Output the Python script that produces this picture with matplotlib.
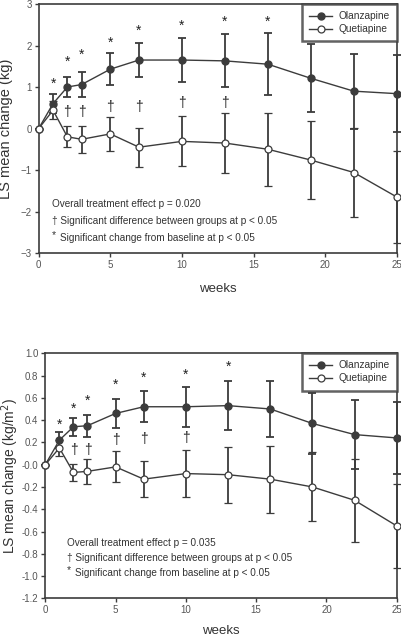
import numpy as np
import matplotlib
matplotlib.use("Agg")
import matplotlib.pyplot as plt
from matplotlib.lines import Line2D

plt.rcParams['font.family'] = ['Liberation Sans', 'DejaVu Sans']

weeks = [0, 1, 2, 3, 5, 7, 10, 13, 16, 19, 22, 25]

# weight change (kg)
olz_kg = [0, 0.60, 1.00, 1.06, 1.43, 1.65, 1.65, 1.63, 1.55, 1.21, 0.90, 0.84]
olz_kg_err = [0, 0.22, 0.24, 0.31, 0.38, 0.42, 0.54, 0.64, 0.74, 0.82, 0.90, 0.93]
que_kg = [0, 0.44, -0.20, -0.26, -0.13, -0.45, -0.31, -0.35, -0.50, -0.76, -1.06, -1.65]
que_kg_err = [0, 0.22, 0.25, 0.33, 0.41, 0.47, 0.60, 0.73, 0.88, 0.95, 1.07, 1.10]
star_wk_kg = [1, 2, 3, 5, 7, 10, 13, 16]
star_y_kg = [1.08, 1.62, 1.77, 2.06, 2.35, 2.47, 2.57, 2.57]
dag_wk_kg = [2, 3, 5, 7, 10, 13]
dag_y_kg = [0.39, 0.39, 0.52, 0.52, 0.62, 0.62]

# BMI change (kg/m2)
olz_bmi = [0, 0.22, 0.34, 0.35, 0.46, 0.52, 0.52, 0.53, 0.50, 0.37, 0.27, 0.24]
olz_bmi_err = [0, 0.07, 0.08, 0.10, 0.13, 0.14, 0.18, 0.22, 0.25, 0.27, 0.31, 0.32]
que_bmi = [0, 0.15, -0.07, -0.06, -0.02, -0.13, -0.08, -0.09, -0.13, -0.20, -0.32, -0.55]
que_bmi_err = [0, 0.07, 0.08, 0.11, 0.14, 0.16, 0.21, 0.25, 0.30, 0.31, 0.37, 0.38]
star_wk_bmi = [1, 2, 3, 5, 7, 10, 13]
star_y_bmi = [0.36, 0.50, 0.57, 0.72, 0.78, 0.81, 0.88]
dag_wk_bmi = [2, 3, 5, 7, 10]
dag_y_bmi = [0.13, 0.13, 0.22, 0.23, 0.24]

dark = "#3c3c3c"
grey = "#555555"
txtc = "#333333"

fig = plt.figure(figsize=(4.02, 6.37), dpi=100)
ax1 = fig.add_axes([0.0963, 0.6028, 0.8907, 0.3909])
ax2 = fig.add_axes([0.1127, 0.0607, 0.8743, 0.3847])


def panel(ax, olz, olz_err, que, que_err, swk, sy, dwk, dy, pval, txt_x, txt_y, dy_txt):
    ax.errorbar(weeks, olz, yerr=olz_err, color=dark, lw=1.0, marker='o', ms=5,
                mfc=dark, mec=dark, ecolor=dark, elinewidth=1.3, capsize=2.8,
                capthick=1.3, clip_on=False, zorder=3)
    ax.errorbar(weeks, que, yerr=que_err, color=dark, lw=1.0, marker='o', ms=5,
                mfc='white', mec=dark, mew=0.9, ecolor=dark, elinewidth=1.3,
                capsize=2.8, capthick=1.3, clip_on=False, zorder=3)
    for x, y in zip(swk, sy):
        ax.text(x, y, '*', ha='center', va='center', fontsize=10, color='#222222')
    for x, y in zip(dwk, dy):
        ax.text(x, y, '\u2020', ha='center', va='center', fontsize=10, color='#222222')
    ax.text(txt_x, txt_y, 'Overall treatment effect p = ' + pval, fontsize=7.2,
            color=txtc, va='center')
    ax.text(txt_x, txt_y - dy_txt, '\u2020 Significant difference between groups at p < 0.05',
            fontsize=7.2, color=txtc, va='center')
    ax.text(txt_x, txt_y - 1.85 * dy_txt, '*', fontsize=7.5, color=txtc, va='center')
    ax.text(txt_x + 0.6, txt_y - 2 * dy_txt, 'Significant change from baseline at p < 0.05',
            fontsize=7.2, color=txtc, va='center')
    ax.set_xlim(0, 25)
    ax.set_xticks([0, 5, 10, 15, 20, 25])
    for s in ax.spines.values():
        s.set_color(dark)
        s.set_linewidth(1.2)
    ax.tick_params(direction='out', length=3, width=1.0, color=dark,
                   labelsize=7, labelcolor=grey, pad=2)
    handles = [Line2D([], [], color=dark, lw=1.0, marker='o', ms=5, mfc=dark, mec=dark),
               Line2D([], [], color=dark, lw=1.0, marker='o', ms=5, mfc='white', mec=dark,
                      mew=0.9)]
    leg = ax.legend(handles, ['Olanzapine', 'Quetiapine'], loc='upper right', fontsize=7.3,
                    frameon=True, fancybox=False, borderpad=0.7, handlelength=2.3,
                    labelspacing=0.3, borderaxespad=0.0, handletextpad=0.6)
    leg.get_frame().set_edgecolor(dark)
    leg.get_frame().set_linewidth(1.8)
    for t in leg.get_texts():
        t.set_color(txtc)
    ax.set_xlabel('weeks', fontsize=9.5, color=txtc)


panel(ax1, olz_kg, olz_kg_err, que_kg, que_kg_err, star_wk_kg, star_y_kg,
      dag_wk_kg, dag_y_kg, '0.020', 0.91, -1.81, 0.41)
ax1.set_ylim(-3, 3)
ax1.set_yticks(range(-3, 4))
ax1.set_ylabel('LS mean change (kg)', fontsize=10.5, color=txtc)
ax1.yaxis.set_label_coords(-0.072, 0.5)
ax1.xaxis.set_label_coords(0.5, -0.12)

panel(ax2, olz_bmi, olz_bmi_err, que_bmi, que_bmi_err, star_wk_bmi, star_y_bmi,
      dag_wk_bmi, dag_y_bmi, '0.035', 1.52, -0.70, 0.135)
ax2.set_ylim(-1.2, 1.0)
ax2.set_yticks(np.arange(-1.2, 1.01, 0.2))
ax2.yaxis.set_major_formatter(matplotlib.ticker.FormatStrFormatter('%.1f'))
ax2.set_ylabel('LS mean change (kg/m$^2$)', fontsize=10, color=txtc)
ax2.yaxis.set_label_coords(-0.07, 0.5)
ax2.xaxis.set_label_coords(0.5, -0.11)

fig.savefig('out.png', dpi=100)
